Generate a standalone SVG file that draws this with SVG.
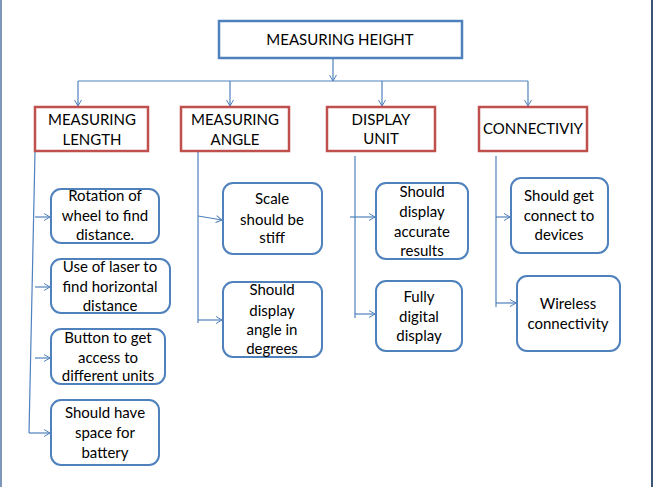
<svg xmlns="http://www.w3.org/2000/svg" width="653" height="487" viewBox="0 0 653 487">
<defs>
<marker id="ah" markerWidth="8" markerHeight="8" refX="7" refY="4" orient="auto" markerUnits="userSpaceOnUse">
<path d="M1,0.5 L7,4 L1,7.5" fill="none" stroke="#4f81bd" stroke-width="1"/>
</marker>
<style>
.t{font-family:Lato,"Liberation Sans",sans-serif;font-size:15px;fill:#000;text-anchor:middle}
.top{fill:#fff;stroke:#4f81bd;stroke-width:2.5}
.cat{fill:#fff;stroke:#c0504d;stroke-width:2.5}
.leaf{fill:#fff;stroke:#4f81bd;stroke-width:2}
.c{fill:none;stroke:#4f81bd;stroke-width:1.2}
.ca{fill:none;stroke:#4f81bd;stroke-width:1.2;marker-end:url(#ah)}
</style>
</defs>
<rect x="0" y="0" width="653" height="487" fill="#fff"/>
<line x1="1" y1="0" x2="1" y2="487" stroke="#7f96b8" stroke-width="2"/>
<line x1="652" y1="0" x2="652" y2="487" stroke="#3c5475" stroke-width="2"/>
<g id="connectors">
<path class="ca" d="M333,59 L333,81"/>
<path class="c" d="M78,81 L528,81"/>
<path class="ca" d="M78,81 L78,106"/>
<path class="ca" d="M230,81 L230,106"/>
<path class="ca" d="M382,81 L382,106"/>
<path class="ca" d="M528,81 L528,106"/>
<path class="c" d="M35,152 L29,433"/>
<path class="ca" d="M35,217 L50,217"/>
<path class="ca" d="M35,287 L50,287"/>
<path class="ca" d="M35,358 L50,358"/>
<path class="ca" d="M29,433 L50,433"/>
<path class="c" d="M198,152 L198,323"/>
<path class="ca" d="M198,216 L222,220"/>
<path class="ca" d="M198,320 L222,320"/>
<path class="c" d="M355,156 L355,318"/>
<path class="ca" d="M350,217 L375,217"/>
<path class="ca" d="M355,314 L375,314"/>
<path class="c" d="M496,156 L496,307"/>
<path class="ca" d="M496,217 L510,217"/>
<path class="ca" d="M496,303 L516,303"/>
</g>
<g id="n-top"><rect class="top" x="219" y="21" width="243" height="37"/><text class="t" x="340" y="45">MEASURING HEIGHT</text></g>
<g id="n-ml"><rect class="cat" x="35" y="107" width="113" height="44"/><text class="t" x="92" y="125">MEASURING</text><text class="t" x="92" y="145">LENGTH</text></g>
<g id="n-ma"><rect class="cat" x="181" y="107" width="108" height="44"/><text class="t" x="235" y="125">MEASURING</text><text class="t" x="235" y="145">ANGLE</text></g>
<g id="n-du"><rect class="cat" x="327" y="107" width="108" height="44"/><text class="t" x="381" y="125">DISPLAY</text><text class="t" x="381" y="144">UNIT</text></g>
<g id="n-co"><rect class="cat" x="479" y="107" width="108" height="44"/><text class="t" x="533" y="134">CONNECTIVIY</text></g>
<g id="n-rot"><rect class="leaf" x="51" y="189" width="108" height="54" rx="10"/><text class="t" x="105" y="201">Rotation of</text><text class="t" x="105" y="221">wheel to find</text><text class="t" x="105" y="240">distance.</text></g>
<g id="n-laser"><rect class="leaf" x="51" y="259" width="119" height="54" rx="10"/><text class="t" x="110" y="272">Use of laser to</text><text class="t" x="110" y="292">find horizontal</text><text class="t" x="110" y="311">distance</text></g>
<g id="n-btn"><rect class="leaf" x="51" y="329" width="114" height="55" rx="10"/><text class="t" x="108" y="343">Button to get</text><text class="t" x="108" y="363">access to</text><text class="t" x="108" y="381">different units</text></g>
<g id="n-bat"><rect class="leaf" x="51" y="400" width="108" height="65" rx="10"/><text class="t" x="105" y="418">Should have</text><text class="t" x="105" y="438">space for</text><text class="t" x="105" y="458">battery</text></g>
<g id="n-scale"><rect class="leaf" x="223" y="183" width="99" height="71" rx="10"/><text class="t" x="272" y="204">Scale</text><text class="t" x="272" y="225">should be</text><text class="t" x="272" y="243">stiff</text></g>
<g id="n-ang"><rect class="leaf" x="223" y="282" width="99" height="75" rx="10"/><text class="t" x="272" y="295">Should</text><text class="t" x="272" y="316">display</text><text class="t" x="272" y="335">angle in</text><text class="t" x="272" y="354">degrees</text></g>
<g id="n-acc"><rect class="leaf" x="376" y="183" width="92" height="76" rx="10"/><text class="t" x="422" y="197">Should</text><text class="t" x="422" y="217">display</text><text class="t" x="422" y="237">accurate</text><text class="t" x="422" y="256">results</text></g>
<g id="n-dig"><rect class="leaf" x="376" y="281" width="86" height="70" rx="10"/><text class="t" x="419" y="302">Fully</text><text class="t" x="419" y="322">digital</text><text class="t" x="419" y="341">display</text></g>
<g id="n-dev"><rect class="leaf" x="511" y="178" width="97" height="75" rx="10"/><text class="t" x="559" y="201">Should get</text><text class="t" x="559" y="221">connect to</text><text class="t" x="559" y="240">devices</text></g>
<g id="n-wl"><rect class="leaf" x="517" y="276" width="103" height="75" rx="10"/><text class="t" x="568" y="309">Wireless</text><text class="t" x="568" y="329">connectivity</text></g>
</svg>
